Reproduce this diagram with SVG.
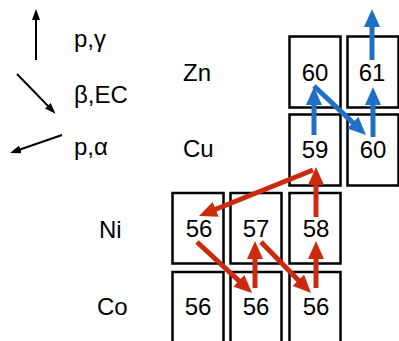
<svg xmlns="http://www.w3.org/2000/svg" width="399" height="341" viewBox="0 0 399 341">
  <style>
    text { font-family: "Liberation Sans", Arial, sans-serif; font-size: 24px; fill: #000; }
    .num { text-anchor: middle; }
    .box { fill: #fff; stroke: #000; stroke-width: 2.5; }
    .blue { stroke: #1F6FC5; stroke-width: 5; fill: none; marker-end: url(#hb); }
    .red { stroke: #CC2A0E; stroke-width: 5; fill: none; marker-end: url(#hr); }
    .blk { stroke: #000; stroke-width: 2; fill: none; marker-end: url(#hk); }
  </style>
  <defs>
    <marker id="hb" markerUnits="userSpaceOnUse" viewBox="0 0 18 16" refX="8" refY="8" markerWidth="18" markerHeight="16" orient="auto">
      <path d="M0,0 L18,8 L0,16 z" fill="#1F6FC5"/>
    </marker>
    <marker id="hr" markerUnits="userSpaceOnUse" viewBox="0 0 18 16" refX="8" refY="8" markerWidth="18" markerHeight="16" orient="auto">
      <path d="M0,0 L18,8 L0,16 z" fill="#CC2A0E"/>
    </marker>
    <marker id="hk" markerUnits="userSpaceOnUse" viewBox="0 0 11 8" refX="5" refY="4" markerWidth="11" markerHeight="8" orient="auto">
      <path d="M0,0 L11,4 L0,8 z" fill="#000"/>
    </marker>
  </defs>

  <g id="legend">
    <line class="blk" x1="36" y1="60" x2="36" y2="15"/>
    <line class="blk" x1="17" y1="74" x2="51.3" y2="109.4"/>
    <line class="blk" x1="62" y1="135" x2="15.7" y2="151"/>
    <text x="74" y="47">p,γ</text>
    <text x="74" y="103">β,EC</text>
    <text x="74" y="155">p,α</text>
  </g>

  <g id="labels">
    <text x="183" y="81">Zn</text>
    <text x="183" y="157">Cu</text>
    <text x="99" y="238">Ni</text>
    <text x="97" y="315">Co</text>
  </g>

  <g id="zn60"><rect class="box" x="289.5" y="36.5" width="51" height="71"/><text class="num" x="315" y="81">60</text></g>
  <g id="zn61"><rect class="box" x="347.5" y="36.5" width="51" height="71"/><text class="num" x="372" y="81">61</text></g>
  <g id="cu59"><rect class="box" x="289.5" y="114.5" width="51" height="71"/><text class="num" x="315" y="158">59</text></g>
  <g id="cu60"><rect class="box" x="347.5" y="114.5" width="51" height="71"/><text class="num" x="373" y="158">60</text></g>
  <g id="ni56"><rect class="box" x="172.5" y="193" width="51" height="70.5"/><text class="num" x="199" y="237">56</text></g>
  <g id="ni57"><rect class="box" x="230.5" y="193" width="51" height="70.5"/><text class="num" x="256" y="237">57</text></g>
  <g id="ni58"><rect class="box" x="289.5" y="193" width="51" height="70.5"/><text class="num" x="316" y="237">58</text></g>
  <g id="co56a"><rect class="box" x="172.5" y="272" width="51" height="80"/><text class="num" x="198" y="315">56</text></g>
  <g id="co56b"><rect class="box" x="230.5" y="272" width="51" height="80"/><text class="num" x="256" y="315">56</text></g>
  <g id="co56c"><rect class="box" x="289.5" y="272" width="51" height="80"/><text class="num" x="316" y="315">56</text></g>

  <g id="connectors">
    <line class="blue" x1="372" y1="60" x2="372" y2="19"/>
    <line class="blue" x1="314" y1="135" x2="314" y2="97"/>
    <line class="blue" x1="373" y1="137" x2="373" y2="97"/>
    <line class="blue" x1="314" y1="86" x2="358.7" y2="128.1"/>
    <line class="red" x1="316" y1="217" x2="316" y2="177"/>
    <line class="red" x1="313" y1="170" x2="208.3" y2="212.3"/>
    <line class="red" x1="197" y1="242" x2="244.7" y2="286.2"/>
    <line class="red" x1="255" y1="288" x2="255" y2="251"/>
    <line class="red" x1="261" y1="242" x2="304" y2="285.9"/>
    <line class="red" x1="316" y1="288" x2="316" y2="251"/>
  </g>
</svg>
